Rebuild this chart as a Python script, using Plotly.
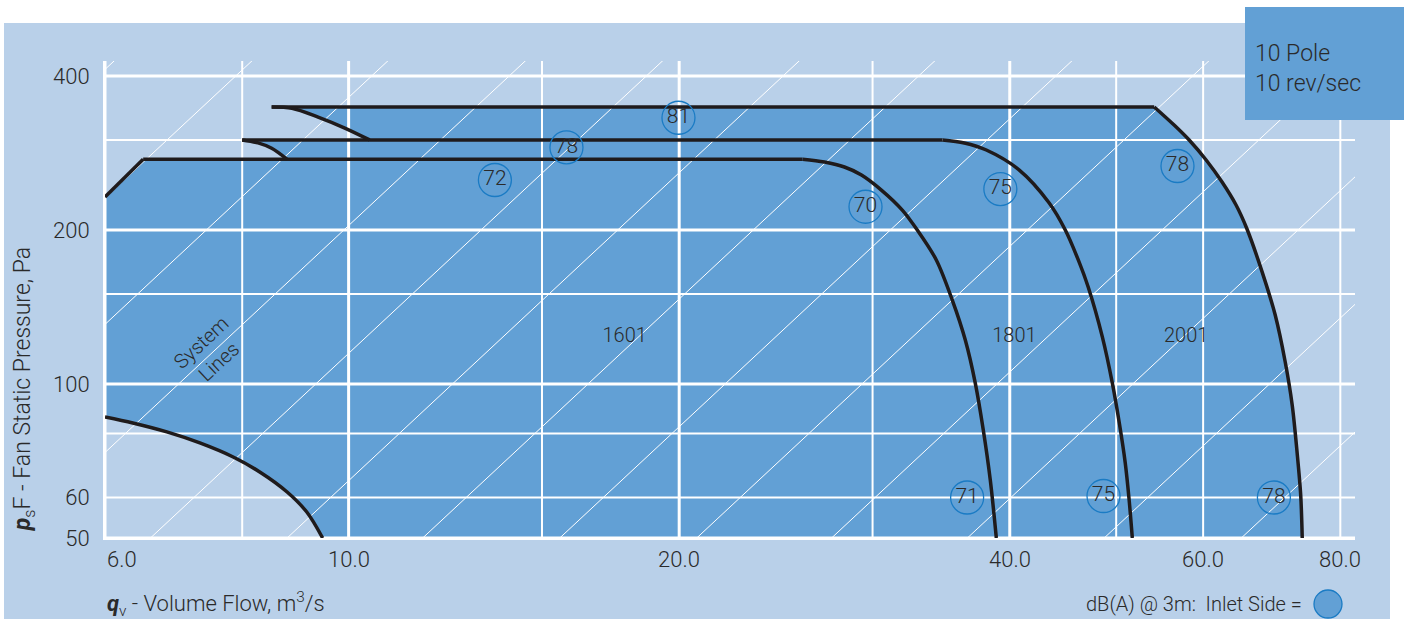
import math
import plotly.graph_objects as go

# ---------------- data ----------------
x_grid_major = [10, 20, 40]
x_grid_minor = [6, 8, 15, 30, 50, 60, 80]
y_grid_major = [50, 100, 200, 400]
y_grid_minor = [60, 80, 150, 300]

x_tick_vals = [6, 10, 20, 40, 60, 80]
x_tick_text = ["6.0", "10.0", "20.0", "40.0", "60.0", "80.0"]
y_tick_vals = [50, 60, 100, 200, 400]
y_tick_text = ["50", "60", "100", "200", "400"]

# system lines (p ~ q^2): flow at 50 Pa for each line
system_q_at_50pa = [2.09, 2.79, 3.71, 4.95, 6.60, 8.79, 11.68, 15.57,
                    20.75, 27.53, 36.6, 48.76, 65.0]

# fan curves (q in m3/s, p in Pa)
q_1601 = [6.0, 6.50, 25.90, 27.12, 28.28, 29.31, 30.56, 31.93, 32.95, 34.29,
          35.46, 36.44, 37.21, 37.84, 38.40, 38.89]
p_1601 = [232, 275, 275, 271.6, 265.6, 256.2, 239.4, 218.8, 200.0, 174.8,
          145.9, 121.9, 100.4, 81.3, 64.9, 50]

q_1801 = [8.79, 8.51, 8.27, 8.0, 34.73, 36.37, 38.08, 40.81, 43.45, 44.94,
          46.18, 47.15, 48.57, 49.60, 50.33, 50.96, 51.38, 51.72]
p_1801 = [275, 289, 296, 300, 300, 295.9, 286.7, 262.0, 225.9, 200.0,
          174.8, 154.7, 123.6, 100.4, 83.9, 70.1, 59.3, 50]

q_2001 = [10.45, 9.92, 9.38, 8.88, 8.51, 54.15, 56.46, 58.27, 60.38, 62.43,
          64.29, 65.78, 67.91, 69.79, 71.27, 72.32, 73.08, 73.62, 73.86]
p_2001 = [300, 316.5, 332.5, 346, 348, 348, 320.8, 299.9, 274.1, 248.2,
          223.8, 200.9, 165.5, 136.4, 110.4, 91.0, 73.2, 60.7, 50]

# lower limit curve
q_min = [6.0, 6.36, 6.83, 7.32, 7.85, 8.30, 8.79, 9.16, 9.47]
p_min = [86.2, 83.9, 80.6, 76.7, 72.0, 67.3, 61.5, 56.2, 50]

# sound levels dB(A)
db_q = [19.97, 15.79, 13.59, 29.56, 39.22, 56.86, 36.58, 48.69, 69.6]
db_p = [331.5, 290.1, 250.5, 222.1, 240.5, 266.8, 60.0, 60.4, 60.0]
db_text = ["81", "78", "72", "70", "75", "78", "71", "75", "78"]

model_names = ["1601", "1801", "2001"]
model_label_q = [17.84, 40.39, 57.9]
model_label_p = [123.6, 123.6, 123.6]

X_MIN, X_MAX = 6.0, 82.5
Y_MIN, Y_MAX = 50.0, 428.0

# ---------------- styles ----------------
LIGHT = "#B9D0E9"
MID = "#62A0D5"
RING = "#1A7BC4"
INK = "#2A2A2A"
CURVE = "#1F1B1C"
FAMILY = "Roboto, Liberation Sans, Arial, sans-serif"


def fnt(size):
    return dict(family=FAMILY, size=size, color=INK, weight=300)


fig = go.Figure()

# shaded operating region
fill_q = q_1601[:2] + q_1801[:4] + q_2001 + q_min[::-1]
fill_p = p_1601[:2] + p_1801[:4] + p_2001 + p_min[::-1]
fig.add_trace(go.Scatter(x=fill_q, y=fill_p, mode="lines", fill="toself",
                         fillcolor=MID, line=dict(width=0), hoverinfo="skip"))

# grid lines (drawn above the fill)
for v in x_grid_minor:
    fig.add_trace(go.Scatter(x=[v, v], y=[Y_MIN, Y_MAX], mode="lines",
                             line=dict(color="white", width=3 if v == 6 else 2),
                             hoverinfo="skip"))
for v in x_grid_major:
    fig.add_trace(go.Scatter(x=[v, v], y=[Y_MIN, Y_MAX], mode="lines",
                             line=dict(color="white", width=3), hoverinfo="skip"))
for v in y_grid_minor:
    fig.add_trace(go.Scatter(x=[X_MIN, X_MAX], y=[v, v], mode="lines",
                             line=dict(color="white", width=2), hoverinfo="skip"))
for v in y_grid_major:
    fig.add_trace(go.Scatter(x=[X_MIN, X_MAX], y=[v, v], mode="lines",
                             line=dict(color="white", width=3), hoverinfo="skip"))

# system lines
for q0 in system_q_at_50pa:
    fig.add_trace(go.Scatter(x=[q0, q0 * 5], y=[50, 50 * 25], mode="lines",
                             line=dict(color="white", width=1), hoverinfo="skip"))


# fan curves: smooth pieces split at the sharp corners
def add_curve(qs, ps, corners):
    cuts = [0] + corners + [len(qs) - 1]
    for a, b in zip(cuts[:-1], cuts[1:]):
        fig.add_trace(go.Scatter(x=qs[a:b + 1], y=ps[a:b + 1], mode="lines",
                                 line=dict(color=CURVE, width=3.5, shape="spline",
                                           smoothing=0.9),
                                 hoverinfo="skip"))


add_curve(q_1601, p_1601, [1, 2])
add_curve(q_1801, p_1801, [3, 4])
add_curve(q_2001, p_2001, [4, 5])
add_curve(q_min, p_min, [])

# dB(A) circles
fig.add_trace(go.Scatter(x=db_q, y=db_p, mode="markers+text", text=db_text,
                         textposition="middle center", textfont=fnt(21),
                         marker=dict(size=33, color="rgba(0,0,0,0)",
                                     line=dict(color=RING, width=1.3)),
                         hoverinfo="skip"))

# model labels
fig.add_trace(go.Scatter(x=model_label_q, y=model_label_p, mode="text",
                         text=model_names, textposition="middle center",
                         textfont=fnt(20), hoverinfo="skip"))

annotations = []
# x tick labels
for v, t in zip(x_tick_vals, x_tick_text):
    annotations.append(dict(x=math.log10(v), xref="x", y=-0.046, yref="paper",
                            text=t, showarrow=False,
                            xanchor="left" if v == x_tick_vals[0] else "center",
                            yanchor="middle", font=fnt(22)))
# axis titles
annotations.append(dict(x=-0.0648, xref="paper", y=0.312, yref="paper",
                        text="<b><i>p</i></b><sub>s</sub>F - Fan Static Pressure, Pa",
                        textangle=-90, showarrow=False, xanchor="center", yanchor="middle",
                        font=fnt(23)))
annotations.append(dict(x=0, xref="paper", y=-0.1384, yref="paper",
                        text="<b><i>q</i></b><sub>v</sub> - Volume Flow, m<sup>3</sup>/s",
                        showarrow=False, xanchor="left", yanchor="middle",
                        font=fnt(22)))
# system lines label
annotations.append(dict(x=math.log10(7.477), xref="x", y=math.log10(115.5), yref="y",
                        text="System<br>Lines", textangle=-43, showarrow=False,
                        xanchor="center", yanchor="middle", font=fnt(20)))
# box text
annotations.append(dict(x=0.918, xref="paper", y=0.9853, yref="paper",
                        text="10 Pole<br>10 rev/sec", showarrow=False, align="left",
                        xanchor="left", yanchor="middle", font=fnt(23)))
# legend note
annotations.append(dict(x=0.9592, xref="paper", y=-0.1384, yref="paper",
                        text="dB(A) @ 3m:&nbsp; Inlet Side =", showarrow=False,
                        xanchor="right", yanchor="middle", font=fnt(20)))

shapes = [
    dict(type="rect", xref="paper", yref="paper", x0=-0.0808, x1=1.028,
         y0=-0.2, y1=1.0797, fillcolor=LIGHT, line=dict(width=0), layer="below"),
    dict(type="rect", xref="paper", yref="paper", x0=0.912, x1=1.0392,
         y0=0.8763, y1=1.1132, fillcolor=MID, line=dict(width=0), layer="above"),
    dict(type="circle", xref="paper", yref="paper",
         x0=0.9784 - 14 / 1250, x1=0.9784 + 14 / 1250,
         y0=-0.1384 - 14 / 477, y1=-0.1384 + 14 / 477,
         fillcolor=MID, line=dict(color=RING, width=1.3), layer="above"),
]

fig.update_layout(
    width=1411, height=619,
    margin=dict(l=105, r=56, t=61, b=81),
    paper_bgcolor="white", plot_bgcolor=LIGHT,
    showlegend=False,
    annotations=annotations, shapes=shapes,
    font=dict(family=FAMILY, color=INK),
    xaxis=dict(type="log", range=[math.log10(X_MIN), math.log10(X_MAX)],
               showgrid=False, zeroline=False, showticklabels=False,
               showline=True, linecolor="white", linewidth=2),
    yaxis=dict(type="log", range=[math.log10(Y_MIN), math.log10(Y_MAX)],
               showgrid=False, zeroline=False,
               tickmode="array", tickvals=y_tick_vals, ticktext=y_tick_text,
               ticks="outside", ticklen=9, tickcolor="rgba(0,0,0,0)",
               tickfont=fnt(22),
               showline=True, linecolor="white", linewidth=2),
)

fig.write_html("out.html",
               config={"displayModeBar": False},
               post_script="document.body.style.margin='0';"
                           "document.body.style.overflow='hidden';")
